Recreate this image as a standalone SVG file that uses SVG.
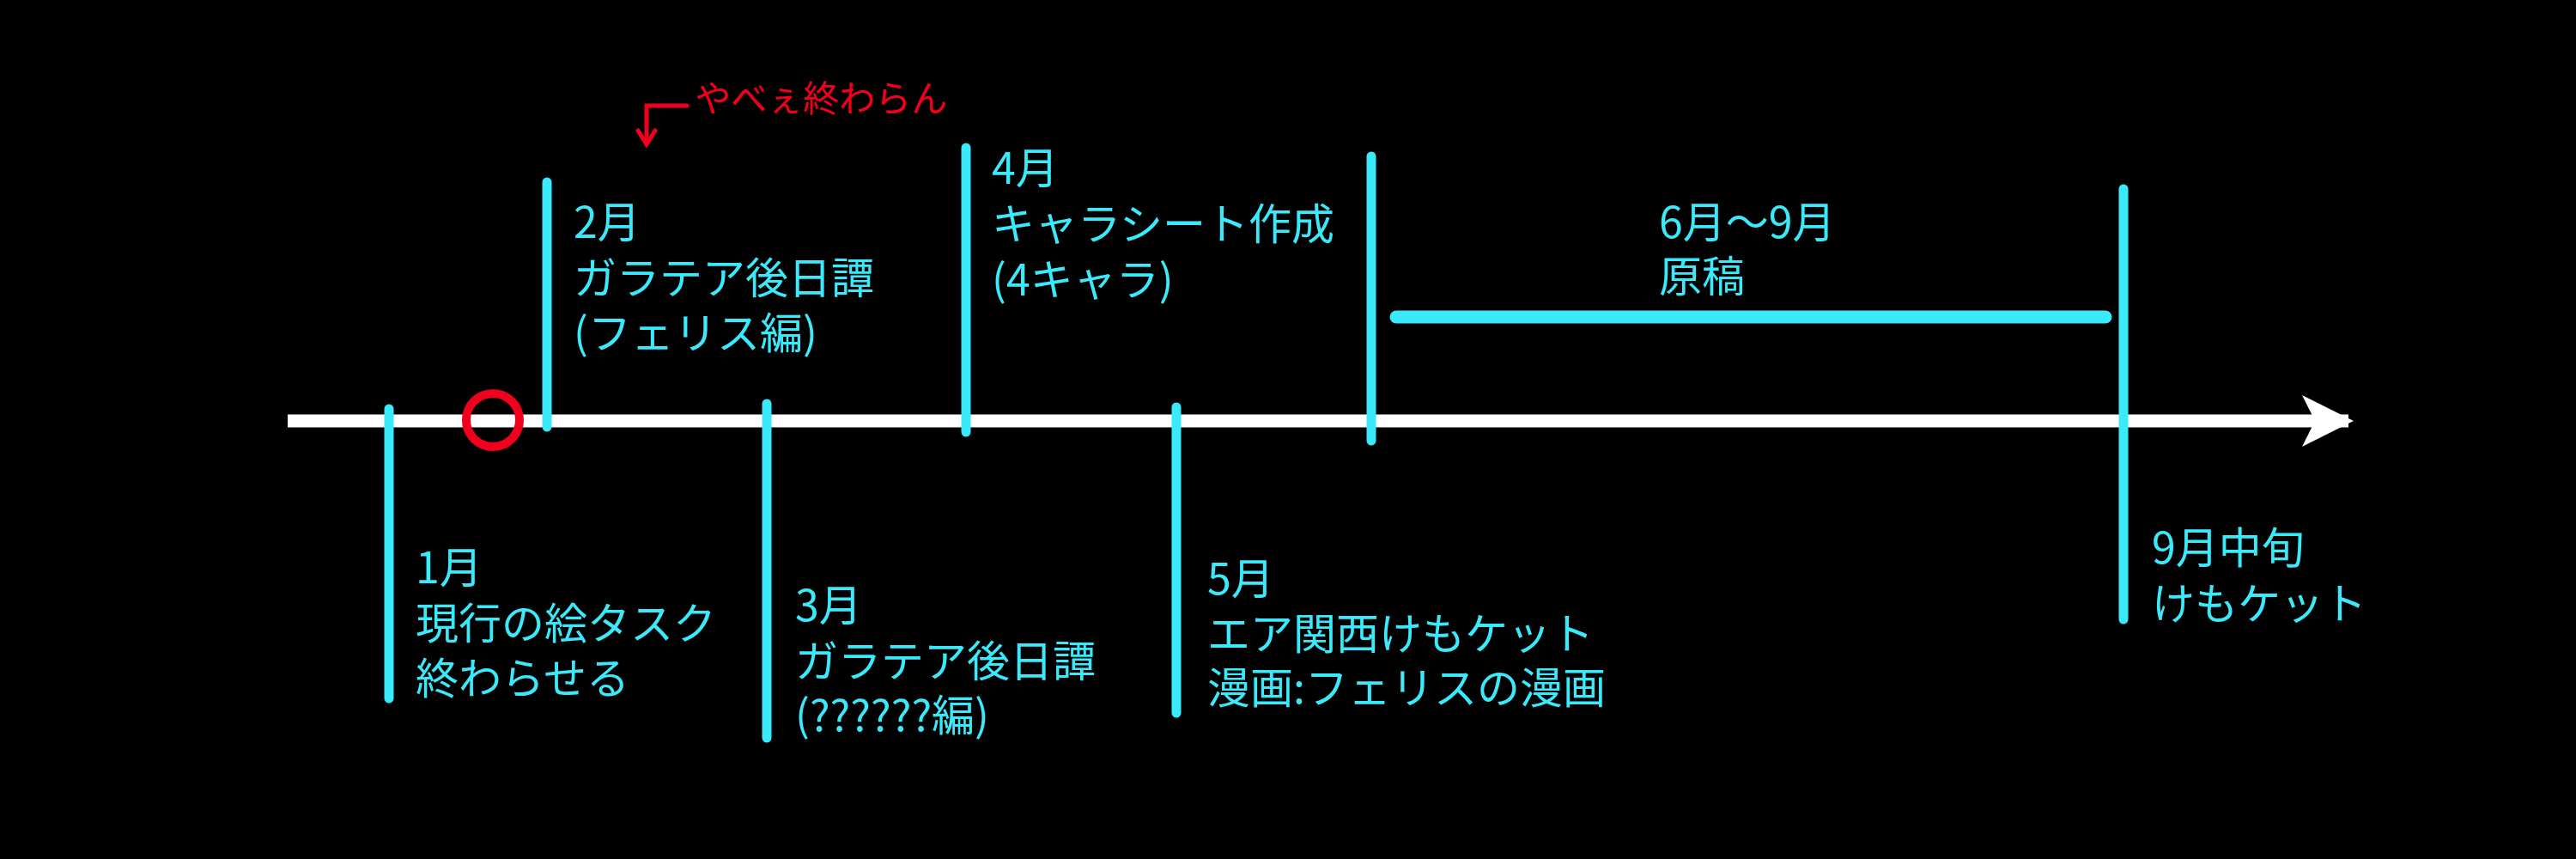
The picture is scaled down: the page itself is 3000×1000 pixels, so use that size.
<svg xmlns="http://www.w3.org/2000/svg" width="3000" height="1000" viewBox="0 0 3000 1000">
<style>
.t{stroke:#3ae9fa;stroke-width:11;stroke-linecap:round;fill:none}
.l{fill:#3ae9fa;font-family:"Noto Sans CJK JP",sans-serif;font-size:50px}
</style>
<defs><marker id="ah" viewBox="0 0 10 10" refX="9" refY="5" markerWidth="4.4" markerHeight="4" orient="auto" markerUnits="strokeWidth"><path d="M0,0 L10,5 L0,10 L2.5,5 Z" fill="#fff"/></marker></defs>
<rect width="3000" height="1000" fill="#000"/>
<g id="connectors">
<line x1="335" y1="490" x2="2735" y2="490" stroke="#fff" stroke-width="15" marker-end="url(#ah)"/>
<line class="t" x1="1626" y1="369" x2="2452" y2="369" style="stroke-width:15"/>
</g>
<g id="n1"><line class="t" x1="453" y1="476" x2="453" y2="813"/><text class="l" x="484" y="679">1月</text><text class="l" x="484" y="744">現行の絵タスク</text><text class="l" x="484" y="808">終わらせる</text></g>
<g id="n2"><line class="t" x1="637" y1="212" x2="637" y2="497"/><text class="l" x="668" y="277">2月</text><text class="l" x="668" y="342">ガラテア後日譚</text><text class="l" x="668" y="406">(フェリス編)</text></g>
<g id="n3"><line class="t" x1="893" y1="470" x2="893" y2="859"/><text class="l" x="926" y="723">3月</text><text class="l" x="926" y="788">ガラテア後日譚</text><text class="l" x="926" y="851">(??????編)</text></g>
<g id="n4"><line class="t" x1="1125" y1="172" x2="1125" y2="503"/><text class="l" x="1155" y="214">4月</text><text class="l" x="1155" y="279">キャラシート作成</text><text class="l" x="1155" y="344">(4キャラ)</text></g>
<g id="n5"><line class="t" x1="1370" y1="474" x2="1370" y2="830"/><text class="l" x="1406" y="692">5月</text><text class="l" x="1406" y="756">エア関西けもケット</text><text class="l" x="1406" y="819">漫画:フェリスの漫画</text></g>
<g id="n6"><line class="t" x1="1597" y1="182" x2="1597" y2="513"/><text class="l" x="1932" y="277">6月～9月</text><text class="l" x="1932" y="340">原稿</text></g>
<g id="n9"><line class="t" x1="2473" y1="220" x2="2473" y2="721"/><text class="l" x="2506" y="656">9月中旬</text><text class="l" x="2506" y="721">けもケット</text></g>
<g id="marker"><circle cx="574" cy="489" r="31" fill="none" stroke="#f0001c" stroke-width="10"/></g>
<g id="note" stroke="#f0001c" stroke-width="5" fill="none" stroke-linecap="round">
<path d="M800,123 L753,123 L753,167"/><path d="M743,152 L753,168 L763,152"/>
<text x="809" y="130" fill="#f0001c" stroke="none" font-family="Noto Sans CJK JP,sans-serif" font-size="42">やべぇ終わらん</text>
</g>
</svg>
